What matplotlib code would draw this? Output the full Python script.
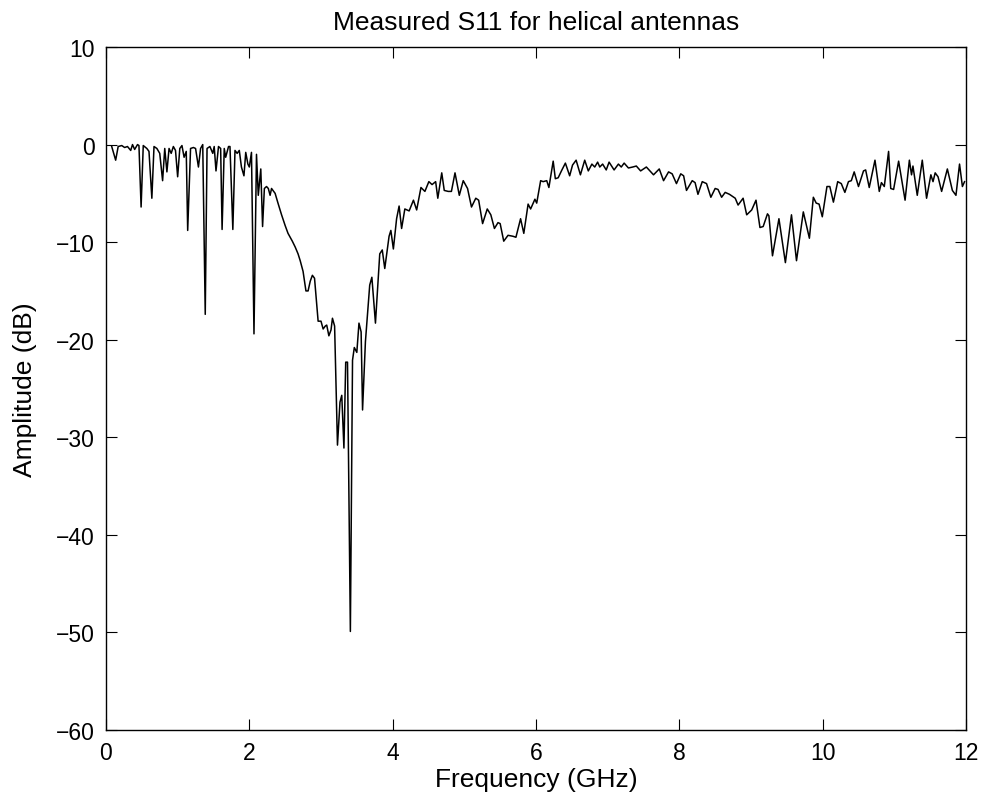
import matplotlib
matplotlib.use("Agg")
import matplotlib.pyplot as plt

# frequency points (GHz)
freq = [0.08, 0.135, 0.17, 0.22, 0.26, 0.30, 0.345, 0.37, 0.40, 0.44,
        0.46, 0.49, 0.52, 0.57, 0.60, 0.64, 0.67, 0.71, 0.75, 0.79,
        0.82, 0.85, 0.88, 0.91, 0.94, 0.97, 1.00, 1.03, 1.06, 1.09,
        1.12, 1.14, 1.18, 1.22, 1.25, 1.29, 1.32, 1.35, 1.385, 1.41,
        1.45, 1.49, 1.51, 1.535, 1.57, 1.60, 1.62, 1.65, 1.67, 1.71,
        1.73, 1.77, 1.80, 1.83, 1.86, 1.89, 1.925, 1.95, 1.98, 2.00,
        2.03, 2.065, 2.10, 2.125, 2.16, 2.185, 2.21, 2.24, 2.265, 2.29,
        2.31, 2.36, 2.40, 2.45, 2.50, 2.54, 2.60, 2.64, 2.68, 2.71,
        2.75, 2.79, 2.82, 2.85, 2.88, 2.91, 2.96, 3.00, 3.03, 3.06,
        3.08, 3.11, 3.14, 3.16, 3.19, 3.23, 3.265, 3.29, 3.32, 3.345,
        3.37, 3.41, 3.44, 3.465, 3.50, 3.53, 3.56, 3.58, 3.62, 3.68,
        3.71, 3.76, 3.82, 3.855, 3.89, 3.95, 3.975, 4.01, 4.055, 4.09,
        4.125, 4.17, 4.23, 4.29, 4.335, 4.395, 4.45, 4.505, 4.55, 4.60,
        4.63, 4.685, 4.72, 4.775, 4.82, 4.87, 4.93, 4.985, 5.045, 5.10,
        5.16, 5.20, 5.255, 5.32, 5.37, 5.42, 5.47, 5.50, 5.55, 5.61,
        5.68, 5.72, 5.785, 5.83, 5.89, 5.925, 5.985, 6.01, 6.065, 6.10,
        6.15, 6.18, 6.24, 6.27, 6.31, 6.355, 6.41, 6.47, 6.51, 6.56,
        6.62, 6.68, 6.73, 6.78, 6.82, 6.86, 6.89, 6.93, 6.98, 7.02,
        7.09, 7.15, 7.19, 7.23, 7.29, 7.35, 7.40, 7.46, 7.54, 7.64,
        7.72, 7.78, 7.85, 7.90, 7.96, 8.02, 8.06, 8.10, 8.18, 8.22,
        8.26, 8.32, 8.38, 8.44, 8.50, 8.54, 8.59, 8.64, 8.70, 8.78,
        8.82, 8.89, 8.94, 9.01, 9.07, 9.125, 9.17, 9.23, 9.25, 9.30,
        9.39, 9.48, 9.565, 9.635, 9.73, 9.815, 9.87, 9.91, 9.95, 9.995,
        10.06, 10.10, 10.15, 10.21, 10.26, 10.31, 10.36, 10.40, 10.44, 10.50,
        10.57, 10.60, 10.65, 10.73, 10.79, 10.82, 10.86, 10.92, 10.95, 10.99,
        11.06, 11.15, 11.21, 11.24, 11.26, 11.32, 11.39, 11.45, 11.51, 11.54,
        11.57, 11.61, 11.66, 11.74, 11.81, 11.86, 11.91, 11.95, 11.98]

# measured S11 (dB)
s11 = [-0.2, -1.6, -0.2, -0.1, -0.3, -0.2, -0.6, 0.0, -0.5, 0.0,
       -0.1, -6.4, -0.1, -0.4, -0.7, -5.5, -0.2, -0.4, -0.9, -3.7,
       -0.4, -2.8, -0.4, -0.9, -0.2, -0.6, -3.3, -0.4, -0.1, -1.3,
       -0.7, -8.8, -0.4, -0.3, -0.4, -2.3, -0.4, 0.0, -17.4, -0.4,
       -0.2, -0.9, -0.2, -2.7, -0.2, -0.4, -8.7, -0.4, -1.3, -0.2,
       -0.2, -8.7, -0.6, -0.9, -0.6, -2.3, -3.2, -0.8, -2.0, -2.3,
       -0.8, -19.4, -1.0, -5.2, -2.5, -8.4, -4.5, -4.3, -4.5, -5.2,
       -4.5, -5.0, -6.0, -7.2, -8.3, -9.1, -9.9, -10.5, -11.2, -11.9,
       -13.0, -15.0, -15.0, -14.0, -13.4, -13.7, -18.1, -18.1, -18.9, -18.6,
       -18.5, -19.6, -19.0, -17.8, -18.6, -30.8, -26.4, -25.7, -31.1, -22.3,
       -22.3, -49.9, -22.1, -20.8, -21.3, -18.3, -19.2, -27.2, -20.2, -14.4,
       -13.6, -18.3, -11.2, -10.8, -12.7, -9.4, -8.8, -10.7, -7.6, -6.3,
       -8.6, -6.6, -6.8, -5.7, -6.7, -4.4, -4.8, -3.8, -4.1, -3.8,
       -5.5, -2.9, -4.7, -4.8, -4.8, -2.9, -5.2, -3.7, -4.5, -6.4,
       -5.5, -5.7, -8.1, -6.6, -7.2, -8.6, -8.0, -8.1, -9.9, -9.3,
       -9.4, -9.5, -7.6, -9.1, -6.1, -6.6, -5.6, -6.0, -3.7, -3.8,
       -3.7, -4.4, -1.7, -3.5, -3.4, -2.7, -1.9, -3.2, -2.1, -1.6,
       -3.1, -1.6, -2.7, -2.0, -2.3, -1.8, -2.3, -2.0, -2.6, -1.8,
       -2.6, -2.0, -2.3, -1.9, -2.4, -2.3, -2.2, -2.7, -2.3, -3.1,
       -2.5, -3.7, -2.8, -3.0, -4.0, -3.0, -3.2, -4.7, -3.7, -3.9,
       -5.1, -3.8, -4.0, -5.4, -4.5, -4.6, -5.4, -4.9, -5.1, -5.5,
       -6.2, -5.5, -7.2, -6.7, -5.7, -8.5, -8.4, -7.1, -7.3, -11.4,
       -7.6, -12.1, -7.2, -11.9, -6.9, -9.6, -5.4, -6.0, -6.1, -7.4,
       -4.3, -4.3, -5.9, -3.8, -4.0, -4.9, -3.8, -3.7, -2.8, -4.3,
       -2.7, -2.6, -4.4, -1.6, -4.8, -3.9, -4.3, -0.7, -4.5, -4.6,
       -1.7, -5.7, -1.6, -3.1, -2.2, -5.2, -1.6, -5.5, -3.1, -3.8,
       -2.9, -3.3, -4.8, -2.5, -4.7, -5.2, -2.0, -4.3, -3.8]

xticks = [0, 2, 4, 6, 8, 10, 12]
yticks = [-60, -50, -40, -30, -20, -10, 0, 10]

plt.rcParams['font.family'] = ['Liberation Sans', 'DejaVu Sans']

fig = plt.figure(figsize=(9.85, 8.04), dpi=100)
ax = fig.add_axes([0.1076, 0.0908, 0.8731, 0.8495])
ax.plot(freq, s11, color='black', linewidth=1.1)
ax.set_xlim(0, 12)
ax.set_ylim(-60, 10)
ax.set_xticks(xticks)
ax.set_yticks(yticks)
ax.set_yticklabels([str(v).replace('-', '\u2212') for v in yticks])
ax.tick_params(direction='in', length=8, width=0.8, labelsize=16.5,
               top=True, right=True, pad=8)
for sp in ax.spines.values():
    sp.set_linewidth(1.0)
ax.set_xlabel('Frequency (GHz)', fontsize=19, labelpad=2)
ax.set_ylabel('Amplitude (dB)', fontsize=19, labelpad=14)
ax.set_title('Measured S11 for helical antennas', fontsize=19, pad=13)

fig.savefig('out.png', dpi=100)
